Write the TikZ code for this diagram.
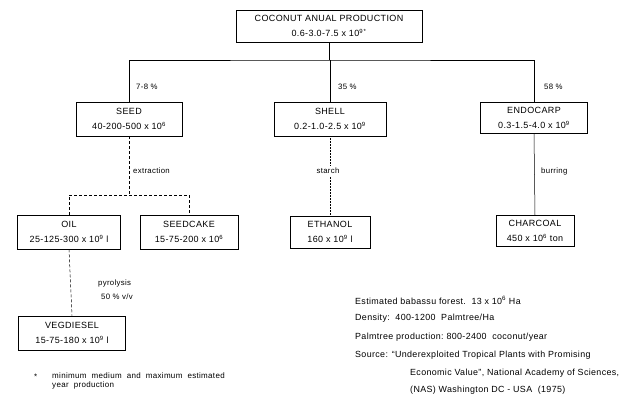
\documentclass[tikz,border=0pt]{standalone}
\usepackage{fontspec}
\setmainfont{Liberation Sans}[LetterSpace=4]
\newcommand{\sups}[1]{\textsuperscript{#1}}
\tikzset{
  box/.style={draw=black, line width=0.9pt, align=center, inner sep=0pt, font=\fontsize{9}{15.5}\selectfont},
  conn/.style={line width=0.5pt},
  dconn/.style={line width=0.5pt, densely dashed},
  lbl/.style={anchor=west, inner sep=0pt, font=\fontsize{7.8}{9}\selectfont},
  note/.style={anchor=west, inner sep=0pt, font=\fontsize{8}{9}\selectfont},
  rnote/.style={anchor=west, inner sep=0pt, font=\fontsize{8.9}{9}\selectfont}
}
\begin{document}
\begin{tikzpicture}[x=1pt,y=-1pt]
\useasboundingbox[fill=white] (0,0) rectangle (641,397);
% boxes
\node[box, minimum width=186pt, minimum height=32pt] (top) at (329,26) {COCONUT ANUAL PRODUCTION\\0.6-3.0-7.5 x 10\sups{9\,*}};
\node[box, minimum width=106pt, minimum height=34pt] (seed) at (129,119) {SEED\\40-200-500 x 10\sups{6}};
\node[box, minimum width=112pt, minimum height=34pt] (shell) at (330,119) {SHELL\\0.2-1.0-2.5 x 10\sups{9}};
\node[box, minimum width=107pt, minimum height=31pt] (endo) at (534,118) {ENDOCARP\\0.3-1.5-4.0 x 10\sups{9}};
\node[box, minimum width=103pt, minimum height=34pt] (oil) at (69,232) {OIL\\25-125-300 x 10\sups{9} l};
\node[box, minimum width=98pt, minimum height=34pt] (cake) at (189,232) {SEEDCAKE\\15-75-200 x 10\sups{6}};
\node[box, minimum width=80pt, minimum height=32pt] (eth) at (330,232) {ETHANOL\\160 x 10\sups{9} l};
\node[box, minimum width=78pt, minimum height=31pt] (coal) at (535,231) {CHARCOAL\\450 x 10\sups{6} ton};
\node[box, minimum width=107pt, minimum height=34pt] (veg) at (72,333) {VEGDIESEL\\15-75-180 x 10\sups{9} l};
% connectors
\coordinate (hub) at (329,60);
\coordinate (sj) at (129,195);
\draw[conn] (top.south) -- (hub);
\draw[conn] (seed.north) |- (hub) -| (endo.north);
\draw[conn] (hub -| shell.north) -- (shell.north);
\draw[dconn] (seed.south) -- (sj);
\draw[dconn] (oil.north) |- (sj) -| (cake.north);
\draw[line width=0.5pt, densely dotted] (shell.south) -- (eth.north);
\draw[conn] (endo.south) -- (coal.north);
\draw[dconn] (oil.south) -- (veg.north);
% labels
\node[lbl] (l1) at (136,87) {7-8 \%};
\node[lbl] (l2) at (338,87) {35 \%};
\node[lbl] (l3) at (544,87) {58 \%};
\node[lbl] (l4) at (133,171) {extraction};
\node[lbl, anchor=center, fill=white, inner sep=2pt] (l5) at (328,171) {starch};
\node[lbl] (l6) at (541,171) {burring};
\node[lbl] (l7) at (98,283) {pyrolysis};
\node[lbl] (l8) at (101,297) {50 \% v/v};
% footnote
\node[note] (fs) at (34,377) {*};
\node[note, align=left, anchor=north west] (fn) at (52,372) {minimum\ \ medium\ \ and\ \ maximum\ \ estimated\\year\ \ production};
% notes
\node[rnote] (n1) at (355,300) {Estimated babassu forest.\ \ 13 x 10\sups{6} Ha};
\node[rnote] (n2) at (355,318) {Density:\ \ 400-1200\ \ Palmtree/Ha};
\node[rnote] (n3) at (355,337) {Palmtree production:\ 800-2400\ \ coconut/year};
\node[rnote] (n4) at (355,355) {Source: ``Underexploited Tropical Plants with Promising};
\node[rnote] (n5) at (410,373) {Economic Value'',\ National Academy of Sciences,};
\node[rnote] (n6) at (410,390) {(NAS) Washington DC - USA\ \ (1975)};
\end{tikzpicture}
\end{document}
